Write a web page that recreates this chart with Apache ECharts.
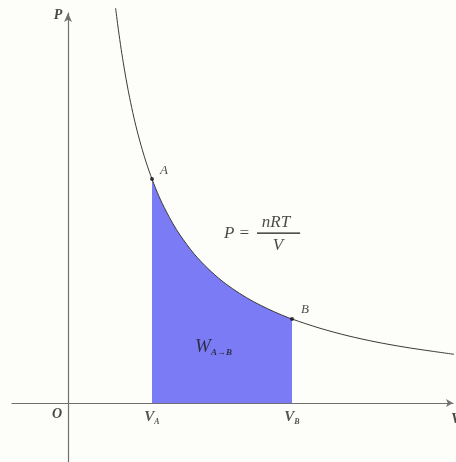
<!DOCTYPE html>
<html>
<head>
<meta charset="utf-8">
<script src="https://cdn.jsdelivr.net/npm/echarts@6/dist/echarts.min.js"></script>
<style>
  html, body { margin: 0; padding: 0; background: #fdfdfa; }
  #pv { width: 456px; height: 462px; }
</style>
</head>
<body>
<div id="pv"></div>
<script>
// isotherm P = nRT / V (arbitrary units)
const curveV = [1.70, 1.80, 1.90, 2.00, 2.10, 2.20, 2.35, 2.50, 2.65, 2.80, 3.00, 3.25, 3.50, 3.75, 4.00, 4.50, 5.00, 5.50, 6.00, 6.50, 7.00, 7.50, 8.00, 9.00, 10.0, 11.0, 12.0, 13.0, 13.86]
const curveP = [14.1, 13.33, 12.63, 12.0, 11.43, 10.91, 10.21, 9.60, 9.06, 8.57, 8.00, 7.38, 6.86, 6.40, 6.00, 5.33, 4.80, 4.36, 4.00, 3.69, 3.43, 3.20, 3.00, 2.67, 2.40, 2.18, 2.00, 1.85, 1.73]

// shaded work region between V_A and V_B
const areaV = [3.00, 3.25, 3.50, 3.75, 4.00, 4.50, 5.00, 5.50, 6.00, 6.50, 7.00, 7.50, 8.00]
const areaP = [8.00, 7.38, 6.86, 6.40, 6.00, 5.33, 4.80, 4.36, 4.00, 3.69, 3.43, 3.20, 3.00]

// states A and B
const stateNames = ['A', 'B']
const stateV = [3, 8]
const stateP = [8, 3]

// fraction bar of the formula
const barV = [6.75, 8.29]
const barP = [6.07, 6.07]

const serif = '"Liberation Serif", "DejaVu Serif", serif'
const ink = '#1a1a1a'

let chart = echarts.init(document.getElementById('pv'))

const zip = (xs, ys) => xs.map((x, i) => [x, ys[i]])

// text labels placed in data units
function txt(x, y, formatter, opts) {
  return {
    value: [x, y],
    label: Object.assign({
      show: true,
      position: 'inside',
      formatter: formatter,
      fontFamily: serif,
      fontStyle: 'italic',
      fontWeight: 'bold',
      fontSize: 15,
      color: ink
    }, opts || {})
  }
}

const subRich = {
  v: { fontFamily: serif, fontStyle: 'italic', fontWeight: 'bold', fontSize: 15, color: '#2a2a2a' },
  s: { fontFamily: serif, fontStyle: 'italic', fontWeight: 'bold', fontSize: 8, color: '#2a2a2a', padding: [10, 0, 0, 0] }
}

const labels = [
  txt(-0.36, 13.86, 'P', { fontSize: 14 }),
  txt(-0.39, -0.39, 'O', { fontSize: 14 }),
  txt(3.0, -0.5, '{v|V}{s|A}', { rich: subRich }),
  txt(8.0, -0.5, '{v|V}{s|B}', { rich: subRich }),
  txt(13.68, -0.57, 'V', { align: 'left' }),
  txt(3.43, 8.29, 'A', { fontSize: 13, fontWeight: 'normal' }),
  txt(8.46, 3.32, 'B', { fontSize: 13, fontWeight: 'normal' }),
  txt(6.5, 6.05, 'P =', { align: 'right', fontSize: 17, fontWeight: 'normal' }),
  txt(7.43, 6.43, 'nRT', { fontSize: 17, fontWeight: 'normal' }),
  txt(7.5, 5.64, 'V', { fontSize: 17, fontWeight: 'normal' }),
  txt(4.54, 2.0, '{w|W}{s|A\u2192B}', {
    align: 'left',
    fontWeight: 'normal',
    rich: {
      w: { fontFamily: serif, fontStyle: 'italic', fontWeight: 'normal', fontSize: 19, color: ink },
      s: { fontFamily: serif, fontStyle: 'italic', fontWeight: 'bold', fontSize: 9, color: ink, padding: [12, 0, 0, 0] }
    }
  })
]

let option = {
  backgroundColor: '#fdfdfa',
  animation: false,
  grid: { left: 12, right: 3, top: 13, bottom: 0 },
  xAxis: {
    type: 'value',
    min: -2,
    max: 13.75,
    axisLine: {
      lineStyle: { color: '#707070', width: 1.2 },
      symbol: ['none', 'arrow'],
      symbolSize: [6, 7]
    },
    axisTick: { show: false },
    axisLabel: { show: false },
    splitLine: { show: false }
  },
  yAxis: {
    type: 'value',
    min: -2.107,
    max: 13.93,
    axisLine: {
      lineStyle: { color: '#707070', width: 1.2 },
      symbol: ['none', 'arrow'],
      symbolSize: [6, 9]
    },
    axisTick: { show: false },
    axisLabel: { show: false },
    splitLine: { show: false }
  },
  series: [
    {
      name: 'work',
      type: 'line',
      data: zip(areaV, areaP),
      smooth: 0.3,
      symbol: 'none',
      lineStyle: { width: 0 },
      areaStyle: { color: '#7b7bf5', opacity: 1 },
      z: 1
    },
    {
      name: 'isotherm',
      type: 'line',
      data: zip(curveV, curveP),
      smooth: 0.3,
      clip: false,
      symbol: 'none',
      lineStyle: { color: '#3a3a3a', width: 1 },
      z: 3
    },
    {
      name: 'fraction',
      type: 'line',
      data: zip(barV, barP),
      symbol: 'none',
      lineStyle: { color: ink, width: 1.2 },
      z: 3
    },
    {
      name: 'states',
      type: 'scatter',
      data: stateNames.map((n, i) => ({ name: n, value: [stateV[i], stateP[i]] })),
      symbolSize: 4,
      itemStyle: { color: '#111' },
      z: 4
    },
    {
      name: 'labels',
      type: 'scatter',
      data: labels,
      symbolSize: 0,
      silent: true,
      z: 5
    }
  ]
}

chart.setOption(option)
</script>
</body>
</html>
